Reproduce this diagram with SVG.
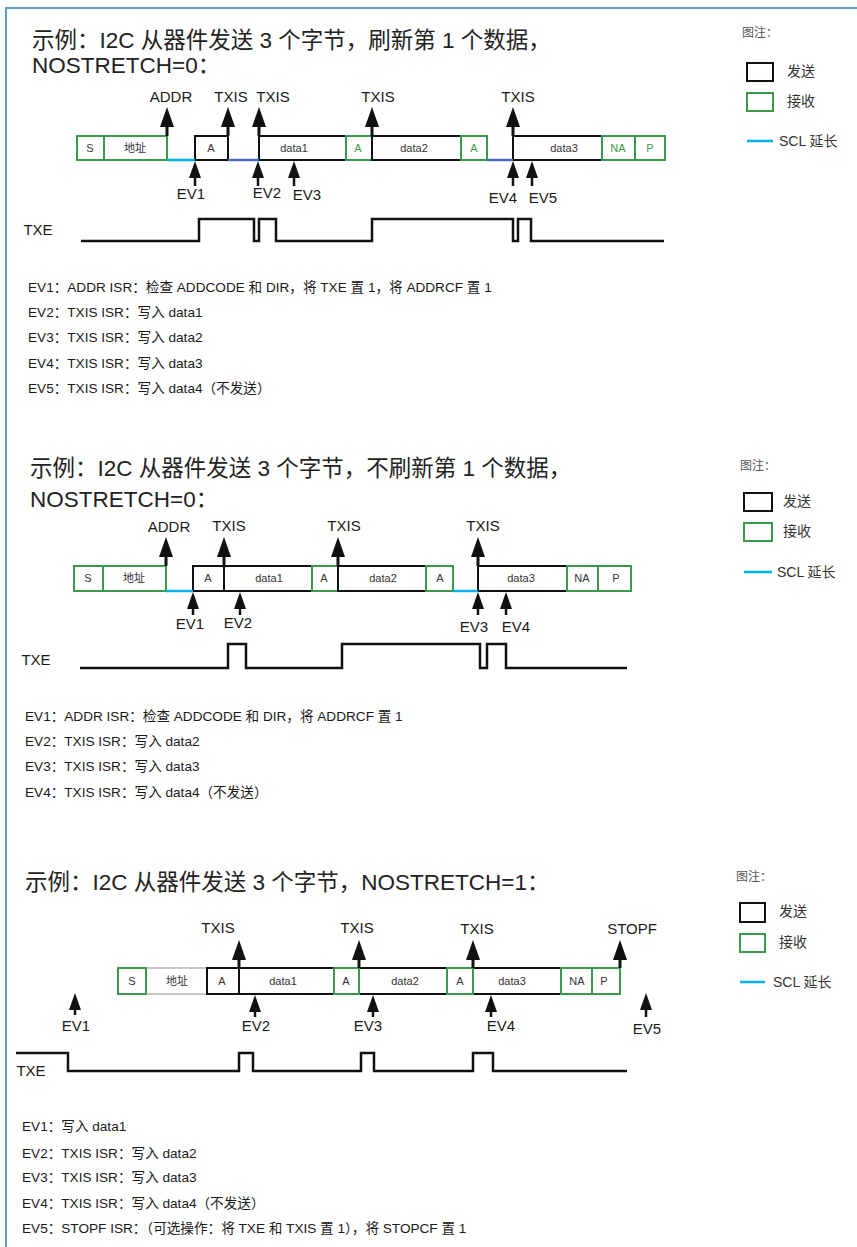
<svg xmlns="http://www.w3.org/2000/svg" width="857" height="1247" viewBox="0 0 857 1247">
<style>
text{font-family:"Liberation Sans","Noto Sans CJK SC",sans-serif;fill:#1a1a1a}
.title{font-size:22.5px;fill:#222}
.lbl{font-size:15px;text-anchor:middle}
.bx{font-size:11px;text-anchor:middle;fill:#333}
.bxg{font-size:11px;text-anchor:middle;fill:#3a9a4a}
.note{font-size:13.6px}
.leg{font-size:12px;fill:#555}
.legt{font-size:14px;fill:#333}
.g{fill:#fff;stroke:#3a9a4a;stroke-width:2}
.k{fill:#fff;stroke:#111;stroke-width:2}
.gr{fill:#fff;stroke:#c8c8c8;stroke-width:2}
.lb{stroke:#00b0f0;stroke-width:2.5}
.db{stroke:#4a6bbf;stroke-width:2.5}
.up{stroke:#111;stroke-width:3;marker-end:url(#hb)}
.ev{stroke:#111;stroke-width:2.5;marker-end:url(#hs)}
.wave{fill:none;stroke:#111;stroke-width:2.5}
</style>
<defs>
<marker id="hb" viewBox="0 -7 20 14" refX="4" refY="0" markerWidth="20" markerHeight="14" markerUnits="userSpaceOnUse" orient="auto"><path d="M0 -7 L20 0 L0 7 Z" fill="#111"/></marker>
<marker id="hs" viewBox="0 -6 17 12" refX="4" refY="0" markerWidth="17" markerHeight="12" markerUnits="userSpaceOnUse" orient="auto"><path d="M0 -6 L17 0 L0 6 Z" fill="#111"/></marker>
</defs>
<rect width="857" height="1247" fill="#fff"/>
<path d="M6 1247 V8 H857" fill="none" stroke="#5b9bd5" stroke-width="2"/>

<!-- ===== Section 1 ===== -->
<g id="s1-title">
<text class="title" x="32" y="48">示例：I2C 从器件发送 3 个字节，刷新第 1 个数据，</text>
<text class="title" x="32" y="73">NOSTRETCH=0：</text>
</g>
<g id="s1-legend">
<text class="leg" x="742" y="37">图注：</text>
<rect class="k" x="747" y="63" width="26" height="18"/><text class="legt" x="787" y="76">发送</text>
<rect class="g" x="747" y="93" width="26" height="18"/><text class="legt" x="787" y="106">接收</text>
<line class="lb" x1="747" y1="141" x2="773" y2="141"/><text class="legt" x="779" y="146">SCL 延长</text>
</g>
<g id="s1-frame">
<g id="s1-S"><rect class="g" x="77" y="136" width="27" height="24"/><text class="bx" x="90" y="152">S</text></g>
<g id="s1-addr"><rect class="g" x="104" y="136" width="63" height="24"/><text class="bx" x="135" y="152">地址</text></g>
<g id="s1-A1"><rect class="k" x="195" y="136" width="33" height="24"/><text class="bx" x="211" y="152">A</text></g>
<g id="s1-data1"><rect class="k" x="259" y="136" width="87" height="24"/><text class="bx" x="294" y="152">data1</text></g>
<g id="s1-A2"><rect class="g" x="346" y="136" width="26" height="24"/><text class="bxg" x="358" y="152">A</text></g>
<g id="s1-data2"><rect class="k" x="372" y="136" width="89" height="24"/><text class="bx" x="414" y="152">data2</text></g>
<g id="s1-A3"><rect class="g" x="461" y="136" width="26" height="24"/><text class="bxg" x="474" y="152">A</text></g>
<g id="s1-data3"><rect class="k" x="513" y="136" width="89" height="24"/><text class="bx" x="564" y="152">data3</text></g>
<g id="s1-NA"><rect class="g" x="602" y="136" width="33" height="24"/><text class="bxg" x="618" y="152">NA</text></g>
<g id="s1-P"><rect class="g" x="635" y="136" width="30" height="24"/><text class="bxg" x="650" y="152">P</text></g>
</g>
<g id="s1-connectors">
<line class="lb" x1="167" y1="160" x2="195" y2="160"/>
<line class="db" x1="228" y1="160" x2="259" y2="160"/>
<line class="db" x1="487" y1="160" x2="513" y2="160"/>
<line class="up" x1="167" y1="136" x2="167" y2="123"/>
<line class="up" x1="228" y1="136" x2="228" y2="123"/>
<line class="up" x1="259" y1="136" x2="259" y2="123"/>
<line class="up" x1="372" y1="136" x2="372" y2="123"/>
<line class="up" x1="513" y1="136" x2="513" y2="123"/>
<line class="ev" x1="195" y1="186" x2="195" y2="174"/>
<line class="ev" x1="258" y1="186" x2="258" y2="174"/>
<line class="ev" x1="294" y1="186" x2="294" y2="174"/>
<line class="ev" x1="513" y1="186" x2="513" y2="174"/>
<line class="ev" x1="532" y1="186" x2="532" y2="174"/>
</g>
<g id="s1-labels">
<text class="lbl" x="171" y="102">ADDR</text>
<text class="lbl" x="231" y="102">TXIS</text>
<text class="lbl" x="273" y="102">TXIS</text>
<text class="lbl" x="378" y="102">TXIS</text>
<text class="lbl" x="518" y="102">TXIS</text>
<text class="lbl" x="191" y="199">EV1</text>
<text class="lbl" x="267" y="198">EV2</text>
<text class="lbl" x="307" y="200">EV3</text>
<text class="lbl" x="503" y="203">EV4</text>
<text class="lbl" x="543" y="203">EV5</text>
</g>
<g id="s1-txe">
<text class="lbl" x="38" y="235">TXE</text>
<path class="wave" d="M81 241 H199 V219 H254 V241 H259 V219 H276 V241 H372 V219 H513 V241 H518 V219 H531 V241 H664"/>
</g>
<g id="s1-notes">
<text class="note" x="28" y="292">EV1：ADDR ISR：检查 ADDCODE 和 DIR，将 TXE 置 1，将 ADDRCF 置 1</text>
<text class="note" x="28" y="317">EV2：TXIS ISR：写入 data1</text>
<text class="note" x="28" y="342">EV3：TXIS ISR：写入 data2</text>
<text class="note" x="28" y="368">EV4：TXIS ISR：写入 data3</text>
<text class="note" x="28" y="393">EV5：TXIS ISR：写入 data4（不发送）</text>
</g>

<!-- ===== Section 2 ===== -->
<g id="s2-title">
<text class="title" x="30" y="476">示例：I2C 从器件发送 3 个字节，不刷新第 1 个数据，</text>
<text class="title" x="30" y="507">NOSTRETCH=0：</text>
</g>
<g id="s2-legend">
<text class="leg" x="740" y="470">图注：</text>
<rect class="k" x="744" y="493" width="28" height="18"/><text class="legt" x="783" y="506">发送</text>
<rect class="g" x="744" y="523" width="28" height="18"/><text class="legt" x="783" y="536">接收</text>
<line class="lb" x1="744" y1="572" x2="772" y2="572"/><text class="legt" x="777" y="577">SCL 延长</text>
</g>
<g id="s2-frame">
<g id="s2-S"><rect class="g" x="74" y="566" width="29" height="25"/><text class="bx" x="88" y="582">S</text></g>
<g id="s2-addr"><rect class="g" x="103" y="566" width="63" height="25"/><text class="bx" x="134" y="582">地址</text></g>
<g id="s2-A1"><rect class="k" x="193" y="566" width="31" height="25"/><text class="bx" x="208" y="582">A</text></g>
<g id="s2-data1"><rect class="k" x="224" y="566" width="88" height="25"/><text class="bx" x="269" y="582">data1</text></g>
<g id="s2-A2"><rect class="g" x="312" y="566" width="26" height="25"/><text class="bx" x="324" y="582">A</text></g>
<g id="s2-data2"><rect class="k" x="338" y="566" width="88" height="25"/><text class="bx" x="383" y="582">data2</text></g>
<g id="s2-A3"><rect class="g" x="426" y="566" width="27" height="25"/><text class="bx" x="440" y="582">A</text></g>
<g id="s2-data3"><rect class="k" x="478" y="566" width="89" height="25"/><text class="bx" x="521" y="582">data3</text></g>
<g id="s2-NA"><rect class="g" x="567" y="566" width="31" height="25"/><text class="bx" x="582" y="582">NA</text></g>
<g id="s2-P"><rect class="g" x="598" y="566" width="33" height="25"/><text class="bx" x="616" y="582">P</text></g>
</g>
<g id="s2-connectors">
<line class="lb" x1="166" y1="591" x2="193" y2="591"/>
<line class="lb" x1="453" y1="591" x2="478" y2="591"/>
<line class="up" x1="166" y1="566" x2="166" y2="553"/>
<line class="up" x1="224" y1="566" x2="224" y2="553"/>
<line class="up" x1="338" y1="566" x2="338" y2="553"/>
<line class="up" x1="478" y1="566" x2="478" y2="553"/>
<line class="ev" x1="193" y1="615" x2="193" y2="605"/>
<line class="ev" x1="240" y1="615" x2="240" y2="605"/>
<line class="ev" x1="478" y1="615" x2="478" y2="605"/>
<line class="ev" x1="506" y1="615" x2="506" y2="605"/>
</g>
<g id="s2-labels">
<text class="lbl" x="169" y="532">ADDR</text>
<text class="lbl" x="229" y="531">TXIS</text>
<text class="lbl" x="344" y="531">TXIS</text>
<text class="lbl" x="483" y="531">TXIS</text>
<text class="lbl" x="190" y="629">EV1</text>
<text class="lbl" x="238" y="628">EV2</text>
<text class="lbl" x="474" y="632">EV3</text>
<text class="lbl" x="516" y="632">EV4</text>
</g>
<g id="s2-txe">
<text class="lbl" x="36" y="665">TXE</text>
<path class="wave" d="M80 668 H228 V644 H246 V668 H342 V644 H480 V668 H487 V644 H506 V668 H627"/>
</g>
<g id="s2-notes">
<text class="note" x="25" y="721">EV1：ADDR ISR：检查 ADDCODE 和 DIR，将 ADDRCF 置 1</text>
<text class="note" x="25" y="746">EV2：TXIS ISR：写入 data2</text>
<text class="note" x="25" y="771">EV3：TXIS ISR：写入 data3</text>
<text class="note" x="25" y="797">EV4：TXIS ISR：写入 data4（不发送）</text>
</g>

<!-- ===== Section 3 ===== -->
<g id="s3-title">
<text class="title" x="25" y="890">示例：I2C 从器件发送 3 个字节，NOSTRETCH=1：</text>
</g>
<g id="s3-legend">
<text class="leg" x="736" y="881">图注：</text>
<rect class="k" x="740" y="903" width="25" height="19"/><text class="legt" x="779" y="916">发送</text>
<rect class="g" x="740" y="934" width="25" height="18"/><text class="legt" x="779" y="947">接收</text>
<line class="lb" x1="740" y1="982" x2="765" y2="982"/><text class="legt" x="773" y="987">SCL 延长</text>
</g>
<g id="s3-frame">
<g id="s3-addr"><rect class="gr" x="146" y="968" width="61" height="26"/><text class="bx" x="177" y="985">地址</text></g>
<g id="s3-S"><rect class="g" x="118" y="968" width="28" height="26"/><text class="bx" x="132" y="985">S</text></g>
<g id="s3-A1"><rect class="k" x="207" y="968" width="32" height="26"/><text class="bx" x="222" y="985">A</text></g>
<g id="s3-data1"><rect class="k" x="239" y="968" width="95" height="26"/><text class="bx" x="283" y="985">data1</text></g>
<g id="s3-data2"><rect class="k" x="359" y="968" width="88" height="26"/><text class="bx" x="405" y="985">data2</text></g>
<g id="s3-A2"><rect class="g" x="334" y="968" width="25" height="26"/><text class="bx" x="346" y="985">A</text></g>
<g id="s3-data3"><rect class="k" x="473" y="968" width="88" height="26"/><text class="bx" x="512" y="985">data3</text></g>
<g id="s3-A3"><rect class="g" x="447" y="968" width="26" height="26"/><text class="bx" x="460" y="985">A</text></g>
<g id="s3-NA"><rect class="g" x="561" y="968" width="31" height="26"/><text class="bx" x="577" y="985">NA</text></g>
<g id="s3-P"><rect class="g" x="592" y="968" width="28" height="26"/><text class="bx" x="604" y="985">P</text></g>
</g>
<g id="s3-connectors">
<line class="up" x1="239" y1="968" x2="239" y2="956"/>
<line class="up" x1="359" y1="968" x2="359" y2="956"/>
<line class="up" x1="473" y1="968" x2="473" y2="956"/>
<line class="up" x1="620" y1="968" x2="620" y2="956"/>
<line class="ev" x1="75" y1="1015" x2="75" y2="1006"/>
<line class="ev" x1="255" y1="1017" x2="255" y2="1008"/>
<line class="ev" x1="373" y1="1017" x2="373" y2="1008"/>
<line class="ev" x1="491" y1="1017" x2="491" y2="1008"/>
<line class="ev" x1="646" y1="1017" x2="646" y2="1006"/>
</g>
<g id="s3-labels">
<text class="lbl" x="218" y="933">TXIS</text>
<text class="lbl" x="357" y="933">TXIS</text>
<text class="lbl" x="477" y="934">TXIS</text>
<text class="lbl" x="632" y="934">STOPF</text>
<text class="lbl" x="76" y="1031">EV1</text>
<text class="lbl" x="256" y="1031">EV2</text>
<text class="lbl" x="368" y="1031">EV3</text>
<text class="lbl" x="501" y="1031">EV4</text>
<text class="lbl" x="647" y="1034">EV5</text>
</g>
<g id="s3-txe">
<text class="lbl" x="31" y="1076">TXE</text>
<path class="wave" d="M16 1053 H68 V1071 H239 V1053 H253 V1071 H361 V1053 H374 V1071 H473 V1053 H493 V1071 H627"/>
</g>
<g id="s3-notes">
<text class="note" x="22" y="1131">EV1：写入 data1</text>
<text class="note" x="22" y="1158">EV2：TXIS ISR：写入 data2</text>
<text class="note" x="22" y="1182">EV3：TXIS ISR：写入 data3</text>
<text class="note" x="22" y="1208">EV4：TXIS ISR：写入 data4（不发送）</text>
<text class="note" x="22" y="1233">EV5：STOPF ISR：（可选操作：将 TXE 和 TXIS 置 1），将 STOPCF 置 1</text>
</g>
</svg>
